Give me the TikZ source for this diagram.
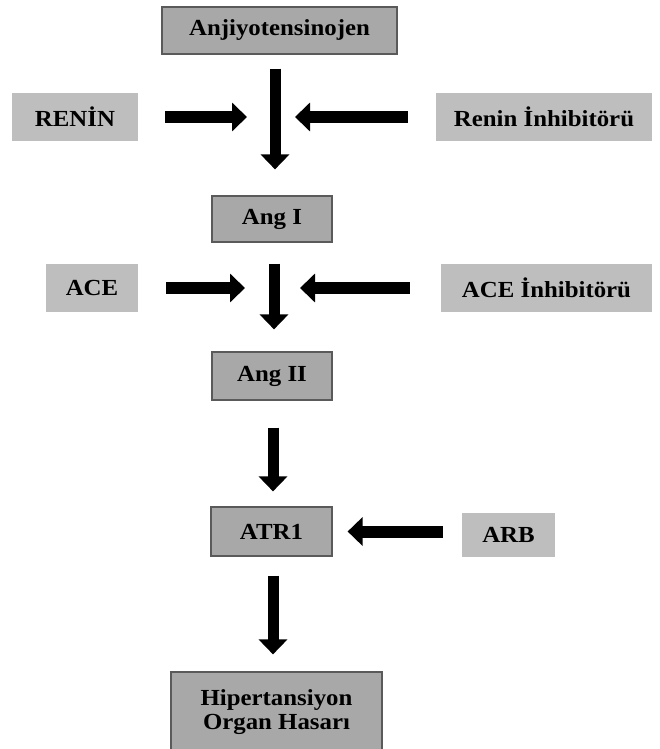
\documentclass[tikz,border=0pt]{standalone}
\usepackage{fontspec}
\setmainfont{Liberation Serif}
\usetikzlibrary{arrows.meta}
\definecolor{mainfill}{RGB}{168,168,168}
\definecolor{sidefill}{RGB}{190,190,190}
\definecolor{boxline}{RGB}{90,90,90}
\newcommand{\wt}[1]{\scalebox{1.08}[1]{#1}}
\tikzset{
  mainbox/.style={draw=boxline, line width=1.2pt, fill=mainfill, inner sep=0pt,
    font=\bfseries\fontsize{23}{25}\selectfont},
  sidebox/.style={fill=sidefill, inner sep=0pt,
    font=\bfseries\fontsize{23}{25}\selectfont},
  blockarrow/.style={line width=11pt, -{Triangle[width=28pt,length=15pt]}},
}
\begin{document}
\begin{tikzpicture}[x=1pt,y=-1pt]
\useasboundingbox[fill=white] (0,0) rectangle (659,749);
% main chain
\node[mainbox, minimum width=235pt, minimum height=47pt] (ang) at (279.5,30.5) {\wt{Anjiyotensinojen}};
\node[mainbox, minimum width=120pt, minimum height=46pt] (angI) at (272,219) {\wt{Ang I}};
\node[mainbox, minimum width=120pt, minimum height=48pt] (angII) at (272,376) {\wt{Ang II}};
\node[mainbox, minimum width=121pt, minimum height=49pt] (atr) at (271.5,531.5) {\wt{ATR1}};
\node[mainbox, minimum width=211pt, minimum height=80pt] (hip) at (276.5,712)
  {\raisebox{7pt}{\begin{tabular}{@{}c@{}}\wt{Hipertansiyon}\\[-1pt]\wt{Organ Hasarı}\end{tabular}}};
% side boxes
\node[sidebox, minimum width=126pt, minimum height=48pt] (renin) at (75,117) {\wt{RENİN}};
\node[sidebox, minimum width=216pt, minimum height=48pt] (renininh) at (544,117) {\wt{Renin İnhibitörü}};
\node[sidebox, minimum width=92pt, minimum height=48pt] (ace) at (92,288) {\wt{ACE}};
\node[sidebox, minimum width=211pt, minimum height=48pt] (aceinh) at (546.5,288) {\wt{ACE İnhibitörü}};
\node[sidebox, minimum width=93pt, minimum height=44pt] (arb) at (508.5,535) {\wt{ARB}};
% vertical axis positions
\coordinate (x1) at (275,0);
\coordinate (x2) at (274,0);
\coordinate (x3) at (273,0);
\coordinate (j1) at (275,117);
\coordinate (j2) at (274,288);
% vertical arrows
\draw[blockarrow, shorten <=14pt, shorten >=26pt] (ang.south -| x1) -- (angI.north -| x1);
\draw[blockarrow, shorten <=21pt, shorten >=22pt] (angI.south -| x2) -- (angII.north -| x2);
\draw[blockarrow, shorten <=27pt, shorten >=15pt] (angII.south -| x3) -- (atr.north -| x3);
\draw[blockarrow, shorten <=19pt, shorten >=17pt] (atr.south -| x3) -- (hip.north -| x3);
% horizontal arrows
\draw[blockarrow, line width=12pt, shorten <=27pt, shorten >=28pt] (renin.east) -- (j1);
\draw[blockarrow, line width=12pt, shorten <=28pt, shorten >=20pt] (renininh.west) -- (j1);
\draw[blockarrow, line width=12pt, shorten <=28pt, shorten >=29pt] (ace.east) -- (j2);
\draw[blockarrow, line width=12pt, shorten <=31pt, shorten >=26pt] (aceinh.west) -- (j2);
\draw[blockarrow, line width=12pt, shorten <=19pt, shorten >=15pt] (arb.west |- atr.east) -- (atr.east);
\end{tikzpicture}
\end{document}
